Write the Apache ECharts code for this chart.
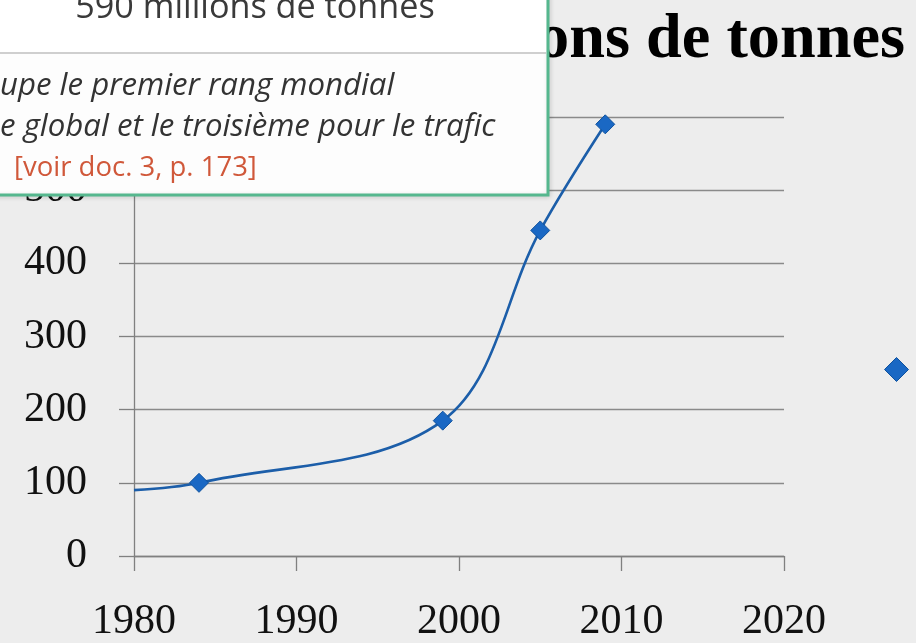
<!DOCTYPE html>
<html>
<head>
<meta charset="utf-8">
<script src="https://cdn.jsdelivr.net/npm/echarts@6/dist/echarts.min.js"></script>
<style>
html,body{margin:0;padding:0;background:#ededed;}
#chart{width:916px;height:643px;}
</style>
</head>
<body>
<div id="chart"></div>
<script>
// ---- data ----
const years = [1980, 1984, 1999, 2005, 2009];
const traffic = [90, 100, 185, 445, 590];
const markerShown = [false, true, true, true, true];
const xTicks = [1980, 1990, 2000, 2010, 2020];
const yTicks = [0, 100, 200, 300, 400, 500, 600];
const seriesName = 'Trafic';
const titleText = 'Trafic en millions de tonnes';
const boxHeadline = '590 millions de tonnes';
const boxLine1 = 'upe le premier rang mondial';
const boxLine2 = 'e global et le troisième pour le trafic';
const boxRef = '[voir doc. 3, p. 173]';

// ---- helpers ----
const mctx = document.createElement('canvas').getContext('2d');
function fit(text, font, target) {
  mctx.font = font.replace('{s}', '100px');
  return 100 * target / mctx.measureText(text).width;
}
const serif = '"Liberation Serif", "DejaVu Serif", serif';
const sans = '"Open Sans", "Noto Sans", sans-serif';

const titleSize = fit('ons de tonnes', 'bold {s} ' + serif, 368);
const headSize = fit(boxHeadline, 'normal {s} ' + sans, 360);
const italSize = fit(boxLine2, 'italic normal {s} ' + sans, 495);
const refSize = fit(boxRef, 'normal {s} ' + sans, 243);

const chart = echarts.init(document.getElementById('chart'), null, {renderer: 'canvas'});

const seriesData = years.map((y, i) => ({
  value: [y, traffic[i]],
  symbol: markerShown[i] ? 'diamond' : 'none'
}));

const option = {
  backgroundColor: '#ededed',
  animation: false,
  title: {
    text: titleText,
    right: 6,
    top: 62 - 0.835 * titleSize - 5,
    textStyle: {fontFamily: serif, fontWeight: 'bold', fontSize: titleSize, color: '#000'}
  },
  legend: {
    data: [seriesName],
    left: 879,
    top: 352,
    itemWidth: 24,
    itemHeight: 24,
    icon: 'diamond',
    itemStyle: {color: '#1a68c4', borderColor: '#0f529e', borderWidth: 1},
    lineStyle: {opacity: 0},
    textStyle: {padding: [0, 0, 0, 40], color: '#333', fontSize: 16}
  },
  grid: {left: 134, right: 132, top: 117, bottom: 86, containLabel: false},
  xAxis: {
    type: 'value',
    min: xTicks[0],
    max: xTicks[xTicks.length - 1],
    interval: xTicks[1] - xTicks[0],
    axisLine: {show: true, lineStyle: {color: '#808080', width: 1.3}},
    axisTick: {show: true, inside: false, length: 15, lineStyle: {color: '#808080', width: 1.3}},
    splitLine: {show: false},
    axisLabel: {
      margin: 45,
      fontFamily: serif, fontSize: 42, color: '#111',
      formatter: v => String(v)
    }
  },
  yAxis: {
    type: 'value',
    min: yTicks[0],
    max: yTicks[yTicks.length - 1],
    interval: yTicks[1] - yTicks[0],
    axisLine: {show: true, lineStyle: {color: '#808080', width: 1.3}},
    axisTick: {show: true, inside: false, length: 15, lineStyle: {color: '#808080', width: 1.3}},
    splitLine: {show: true, lineStyle: {color: '#8a8a8a', width: 1.3}},
    axisLabel: {
      margin: 47,
      fontFamily: serif, fontSize: 42, color: '#111'
    }
  },
  series: [{
    name: seriesName,
    type: 'line',
    data: seriesData,
    smooth: 0.35,
    symbolSize: 19,
    lineStyle: {color: '#1c5ea9', width: 2.6},
    itemStyle: {color: '#1a68c4', borderColor: '#0f529e', borderWidth: 1},
    z: 3
  }],
  graphic: [
    {
      type: 'rect', z: 100,
      shape: {x: -10, y: -10, width: 558, height: 205},
      style: {fill: '#fdfdfd', stroke: '#55b78e', lineWidth: 3,
              shadowBlur: 5, shadowColor: 'rgba(0,0,0,0.12)', shadowOffsetX: 1, shadowOffsetY: 1}
    },
    {
      type: 'rect', z: 101,
      shape: {x: -10, y: -10, width: 556, height: 63},
      style: {fill: '#ffffff'}
    },
    {
      type: 'line', z: 102,
      shape: {x1: 0, y1: 53, x2: 546, y2: 53},
      style: {stroke: '#cfcfcf', lineWidth: 2}
    },
    {
      type: 'text', z: 103, x: 255, y: 8,
      style: {text: boxHeadline, font: 'normal ' + headSize.toFixed(1) + 'px ' + sans,
              fill: '#3a3a3a', align: 'center', verticalAlign: 'middle'}
    },
    {
      type: 'text', z: 103, x: 0, y: 86,
      style: {text: boxLine1, font: 'italic normal ' + italSize.toFixed(1) + 'px ' + sans,
              fill: '#333', align: 'left', verticalAlign: 'middle'}
    },
    {
      type: 'text', z: 103, x: 0, y: 127,
      style: {text: boxLine2, font: 'italic normal ' + italSize.toFixed(1) + 'px ' + sans,
              fill: '#333', align: 'left', verticalAlign: 'middle'}
    },
    {
      type: 'text', z: 103, x: 14, y: 168,
      style: {text: boxRef, font: 'normal ' + refSize.toFixed(1) + 'px ' + sans,
              fill: '#d0583a', align: 'left', verticalAlign: 'middle'}
    }
  ]
};
chart.setOption(option);
</script>
</body>
</html>
